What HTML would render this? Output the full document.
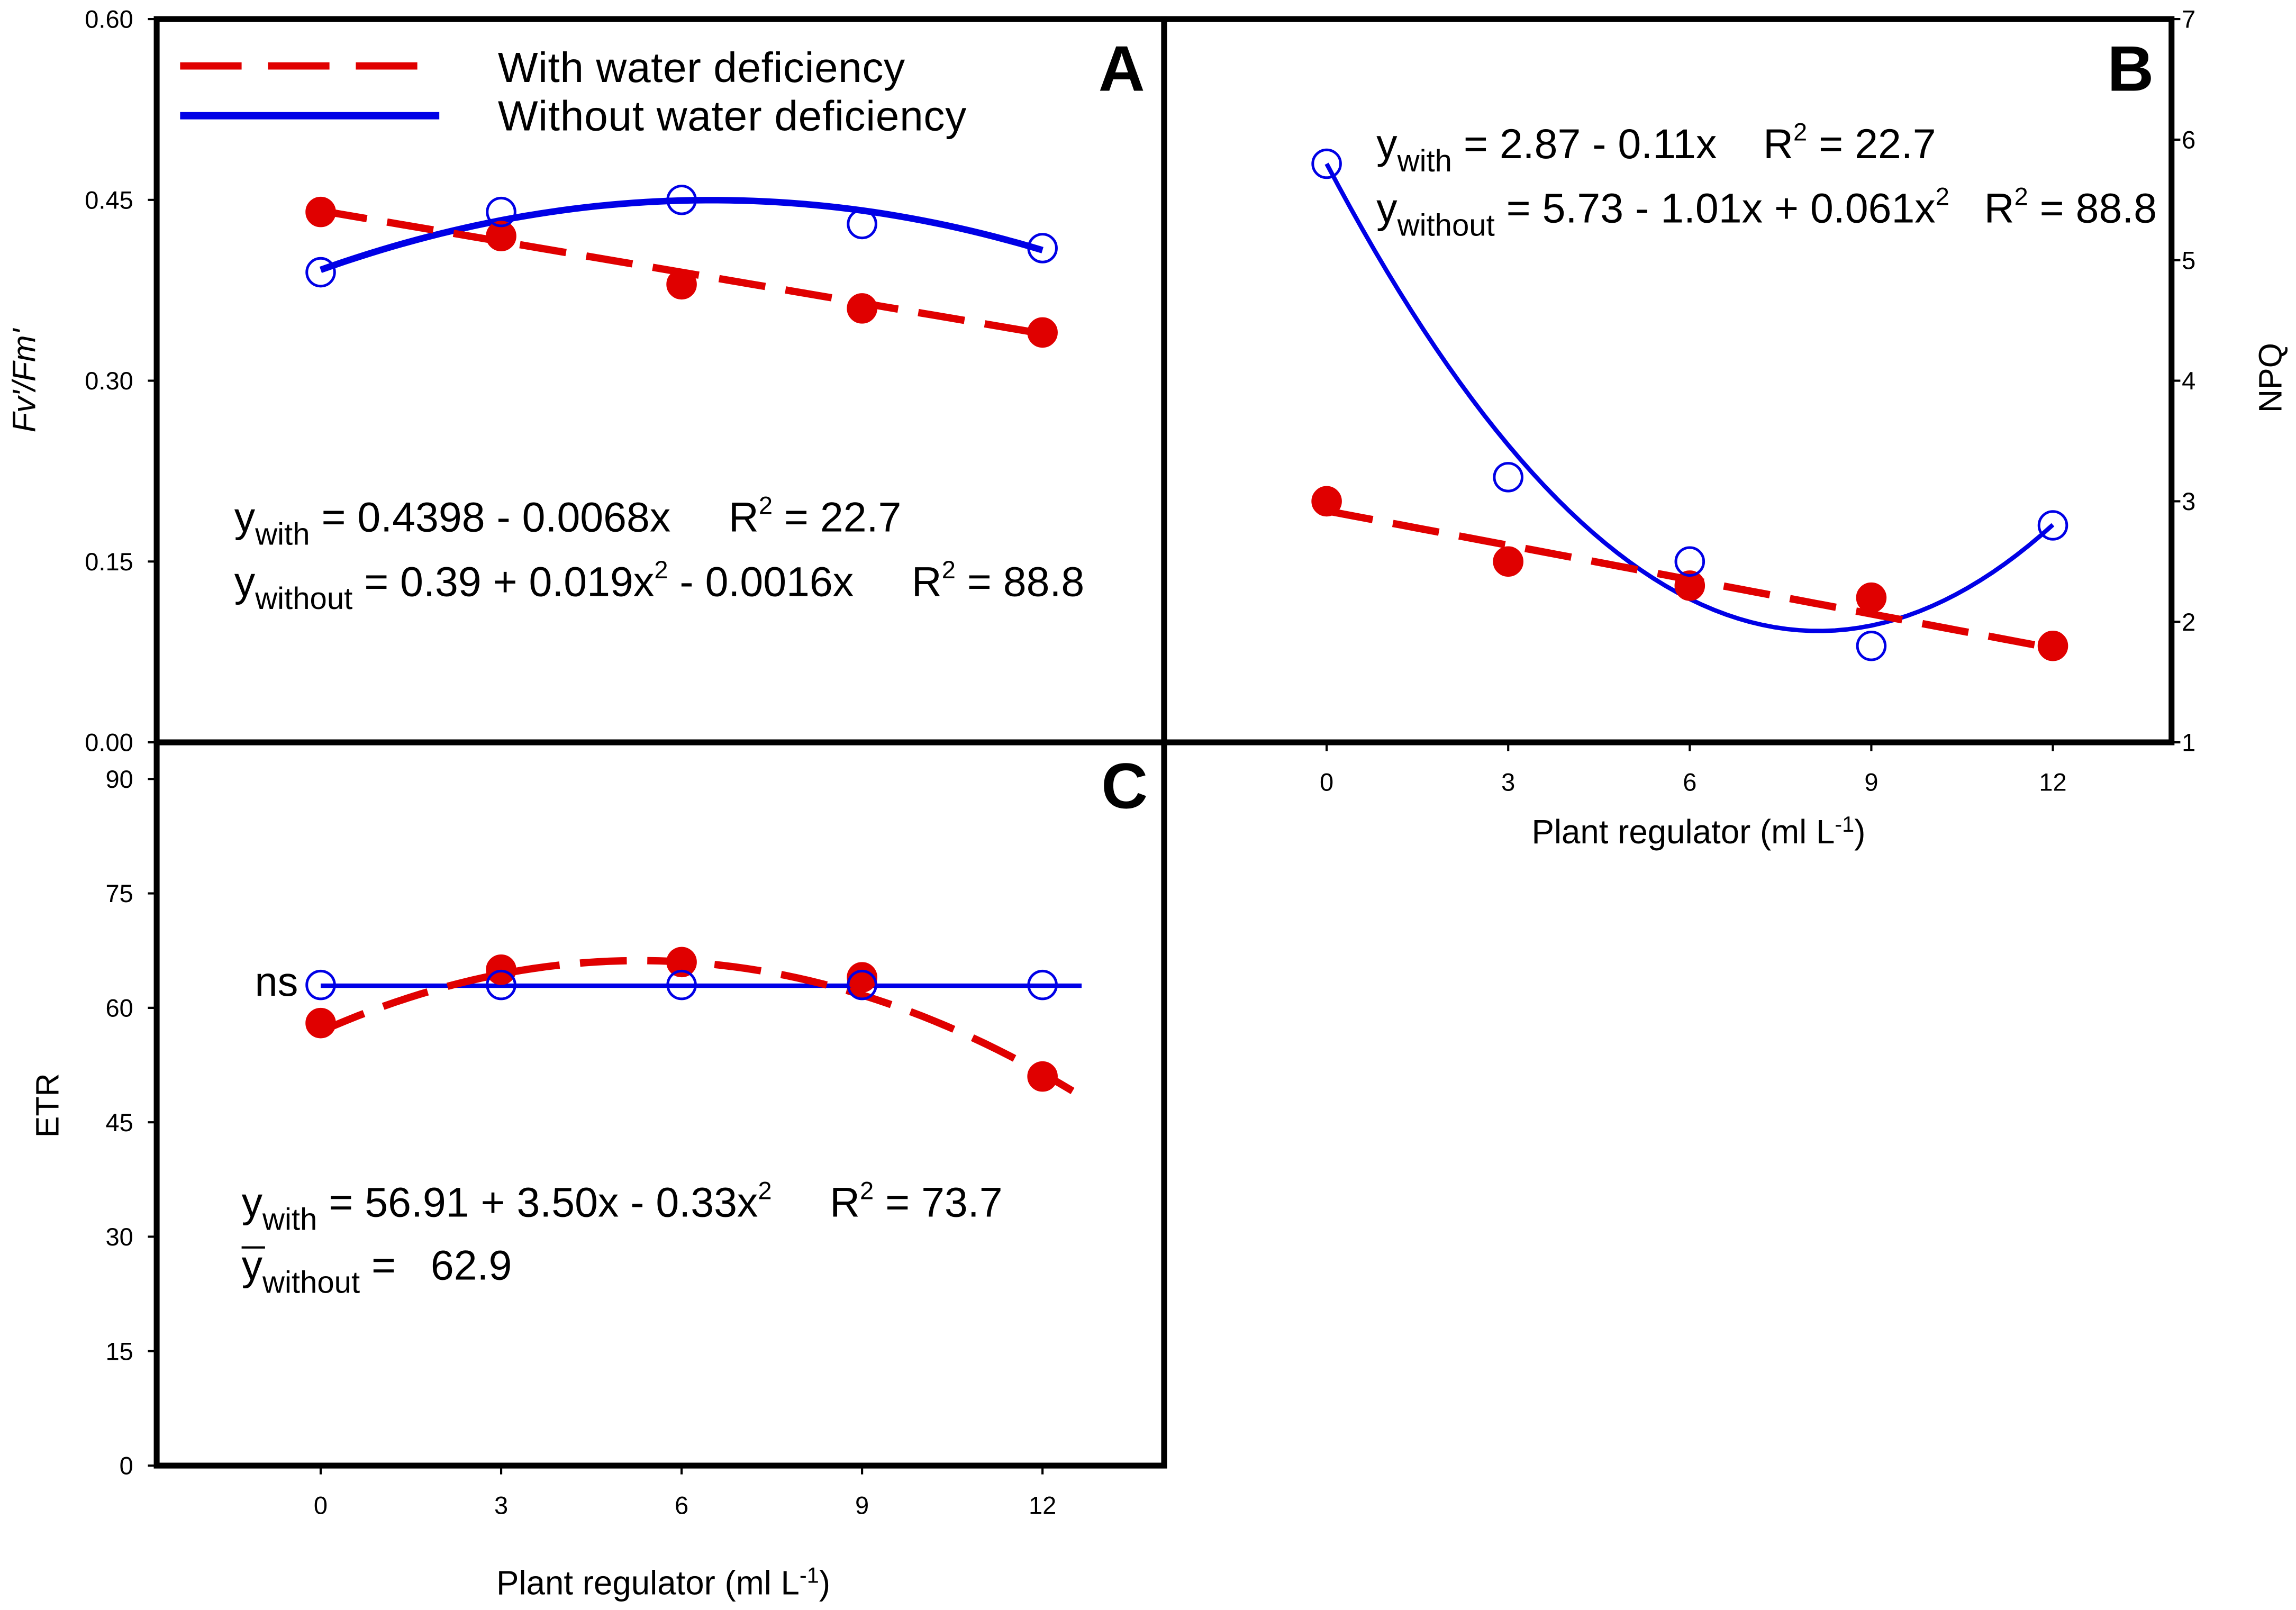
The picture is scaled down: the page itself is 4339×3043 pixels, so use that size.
<!DOCTYPE html>
<html><head><meta charset="utf-8"><style>html,body{margin:0;padding:0;background:#fff}svg{display:block}text{font-family:"Liberation Sans",Arial,sans-serif}</style></head>
<body>
<svg id="chart" width="4339" height="3043" viewBox="0 0 1568 1099.6" xmlns="http://www.w3.org/2000/svg">
<rect width="1568" height="1100" fill="#fff"/>
<g id="layer"></g>
</svg>
<script>
const xCats=[0,3,6,9,12];
const aWith=[0.44,0.42,0.38,0.36,0.34];
const aWithout=[0.39,0.44,0.45,0.43,0.41];
const aWithFit=[0.441,-0.0085,0];
const aWithoutFit=[0.392,0.0178,-0.00137];
const bWith=[3.0,2.5,2.3,2.2,1.8];
const bWithout=[5.8,3.2,2.5,1.8,2.8];
const bWithFit=[2.92,-0.095,0];
const bWithoutFit=[5.8,-0.954,0.0587];
const cWith=[58,65,66,64,51];
const cWithout=[63,63,63,63,63];
const cWithFit=[56.91,3.5,-0.33];
const cWithoutFit=[62.9,0,0];
const aTicks=["0.00","0.15","0.30","0.45","0.60"];
const bTicks=["1","2","3","4","5","6","7"];
const cTicks=["0","15","30","45","60","75","90"];

const NS="http://www.w3.org/2000/svg";
const L=document.getElementById('layer');
function el(t,a,txt){const e=document.createElementNS(NS,t);for(const k in a)e.setAttribute(k,a[k]);if(txt!==undefined)e.textContent=txt;L.appendChild(e);return e;}
const RED="#e00000",BLUE="#0000e6";
const xA=v=>219+v*41.08, xB=v=>906+v*41.33;
const yA=v=>507-v*823.3, yB=v=>507-(v-1)*82.33, yC=v=>1001-v*5.211;
function poly(c,x){return c[0]+c[1]*x+c[2]*x*x;}
function fitPath(c,xs,ys,x0,x1){let d="";for(let i=0;i<=60;i++){const x=x0+(x1-x0)*i/60;d+=(i?"L":"M")+xs(x).toFixed(2)+","+ys(poly(c,x)).toFixed(2);}return d;}
function drawFit(c,xs,ys,x0,x1,col,dash,w,name){const p=el('path',{d:fitPath(c,xs,ys,x0,x1),fill:'none',stroke:col,'stroke-width':w,'stroke-dasharray':dash?'32,14':'none'});

}
function drawPts(vals,xs,ys,filled,name){vals.forEach((v,i)=>{const c=el('circle',{cx:xs(xCats[i]),cy:ys(v),r:9.5,fill:filled?RED:'none',stroke:filled?RED:BLUE,'stroke-width':1.8});

});}
function txt(x,y,s,size,anchor,name,extra){const t=el('text',Object.assign({x:x,y:y,'font-size':size,'text-anchor':anchor||'start',fill:'#000'},extra||{}));t.innerHTML=s;

return t;}

[[107,13,688,494,'panel-a-frame'],[795,13,688,494,'panel-b-frame'],[107,507,688,494,'panel-c-frame']].forEach(r=>{const e=el('rect',{x:r[0],y:r[1],width:r[2],height:r[3],fill:'none',stroke:'#000','stroke-width':4});

});

aTicks.forEach(t=>{const y=yA(+t);txt(91,y+6,t,17,'end','a-y-tick');el('line',{x1:101,x2:107,y1:y,y2:y,stroke:'#000','stroke-width':1.5});});
bTicks.forEach(t=>{const y=yB(+t);txt(1490,y+6,t,17,'start','b-y-tick');el('line',{x1:1483,x2:1489,y1:y,y2:y,stroke:'#000','stroke-width':1.5});});
xCats.forEach(v=>{txt(xB(v),540,v,17,'middle','b-x-tick');el('line',{x1:xB(v),x2:xB(v),y1:507,y2:513,stroke:'#000','stroke-width':1.5});});
cTicks.forEach(t=>{const y=yC(+t);txt(91,y+6,t,17,'end','c-y-tick');el('line',{x1:101,x2:107,y1:y,y2:y,stroke:'#000','stroke-width':1.5});});
xCats.forEach(v=>{txt(xA(v),1034,v,17,'middle','c-x-tick');el('line',{x1:xA(v),x2:xA(v),y1:1001,y2:1007,stroke:'#000','stroke-width':1.5});});

txt(0,0,"<tspan font-style='italic'>Fv'/Fm'</tspan>",22,'middle','a-y-axis-title',{transform:'translate(24,260) rotate(-90)'});
txt(0,0,"NPQ",22,'middle','b-y-axis-title',{transform:'translate(1558,258) rotate(-90)'});
txt(0,0,"ETR",22,'middle','c-y-axis-title',{transform:'translate(40,755) rotate(-90)'});
txt(1160,576,"Plant regulator (ml L<tspan dy='-8' font-size='15'>-1</tspan><tspan dy='8'>)</tspan>",23,'middle','b-x-axis-title');
txt(453,1089,"Plant regulator (ml L<tspan dy='-8' font-size='15'>-1</tspan><tspan dy='8'>)</tspan>",23,'middle','c-x-axis-title');

txt(766,62,"A",44,'middle','panel-a-label',{'font-weight':'bold'});
txt(1455,62,"B",44,'middle','panel-b-label',{'font-weight':'bold'});
txt(768,552,"C",44,'middle','panel-c-label',{'font-weight':'bold'});

let lg=el('line',{x1:123,x2:285,y1:45,y2:45,stroke:RED,'stroke-width':5,'stroke-dasharray':'42,18'});

lg=el('line',{x1:123,x2:300,y1:79,y2:79,stroke:BLUE,'stroke-width':5});

txt(340,56,"With water deficiency",29,'start','legend-with-label',{textLength:278});
txt(340,89,"Without water deficiency",29,'start','legend-without-label',{textLength:320});

drawFit(aWithoutFit,xA,yA,0,12,BLUE,false,4.5,'a-without-fit');
drawFit(aWithFit,xA,yA,0,12,RED,true,5,'a-with-fit');
drawPts(aWith,xA,yA,true,'a-with-point');
drawPts(aWithout,xA,yA,false,'a-without-point');
txt(160,363,"y<tspan dy='9' font-size='21'>with</tspan><tspan dy='-9'> = 0.4398 - 0.0068x&#160;&#160;&#160;&#160; R</tspan><tspan dy='-12' font-size='17'>2</tspan><tspan dy='12'> = 22.7</tspan>",28.5,'start','a-eq-with');
txt(160,407,"y<tspan dy='9' font-size='21'>without</tspan><tspan dy='-9'> = 0.39 + 0.019x</tspan><tspan dy='-12' font-size='17'>2</tspan><tspan dy='12'> - 0.0016x&#160;&#160;&#160;&#160; R</tspan><tspan dy='-12' font-size='17'>2</tspan><tspan dy='12'> = 88.8</tspan>",28.5,'start','a-eq-without');

drawFit(bWithoutFit,xB,yB,0,12,BLUE,false,3,'b-without-fit');
drawFit(bWithFit,xB,yB,0,12,RED,true,5,'b-with-fit');
drawPts(bWith,xB,yB,true,'b-with-point');
drawPts(bWithout,xB,yB,false,'b-without-point');
txt(940,108,"y<tspan dy='9' font-size='21'>with</tspan><tspan dy='-9'> = 2.87 - 0.11x&#160;&#160;&#160; R</tspan><tspan dy='-12' font-size='17'>2</tspan><tspan dy='12'> = 22.7</tspan>",28.5,'start','b-eq-with');
txt(940,152,"y<tspan dy='9' font-size='21'>without</tspan><tspan dy='-9'> = 5.73 - 1.01x + 0.061x</tspan><tspan dy='-12' font-size='17'>2</tspan><tspan dy='12'>&#160;&#160; R</tspan><tspan dy='-12' font-size='17'>2</tspan><tspan dy='12'> = 88.8</tspan>",28.5,'start','b-eq-without');

drawFit(cWithoutFit,xA,yC,0,12.65,BLUE,false,3,'c-without-fit');
drawFit(cWithFit,xA,yC,0,12.5,RED,true,5,'c-with-fit');
drawPts(cWith,xA,yC,true,'c-with-point');
drawPts(cWithout,xA,yC,false,'c-without-point');
txt(174,680,"ns",28,'start','c-ns-label');
txt(165,831,"y<tspan dy='9' font-size='21'>with</tspan><tspan dy='-9'> = 56.91 + 3.50x - 0.33x</tspan><tspan dy='-12' font-size='17'>2</tspan><tspan dy='12'>&#160;&#160;&#160;&#160; R</tspan><tspan dy='-12' font-size='17'>2</tspan><tspan dy='12'> = 73.7</tspan>",28.5,'start','c-eq-with');
txt(165,874,"y<tspan dy='9' font-size='21'>without</tspan><tspan dy='-9'> =&#160;&#160; 62.9</tspan>",28.5,'start','c-eq-without');
let ob=el('line',{x1:165,x2:181,y1:852,y2:852,stroke:'#000','stroke-width':1.5});

</script>
</body></html>
